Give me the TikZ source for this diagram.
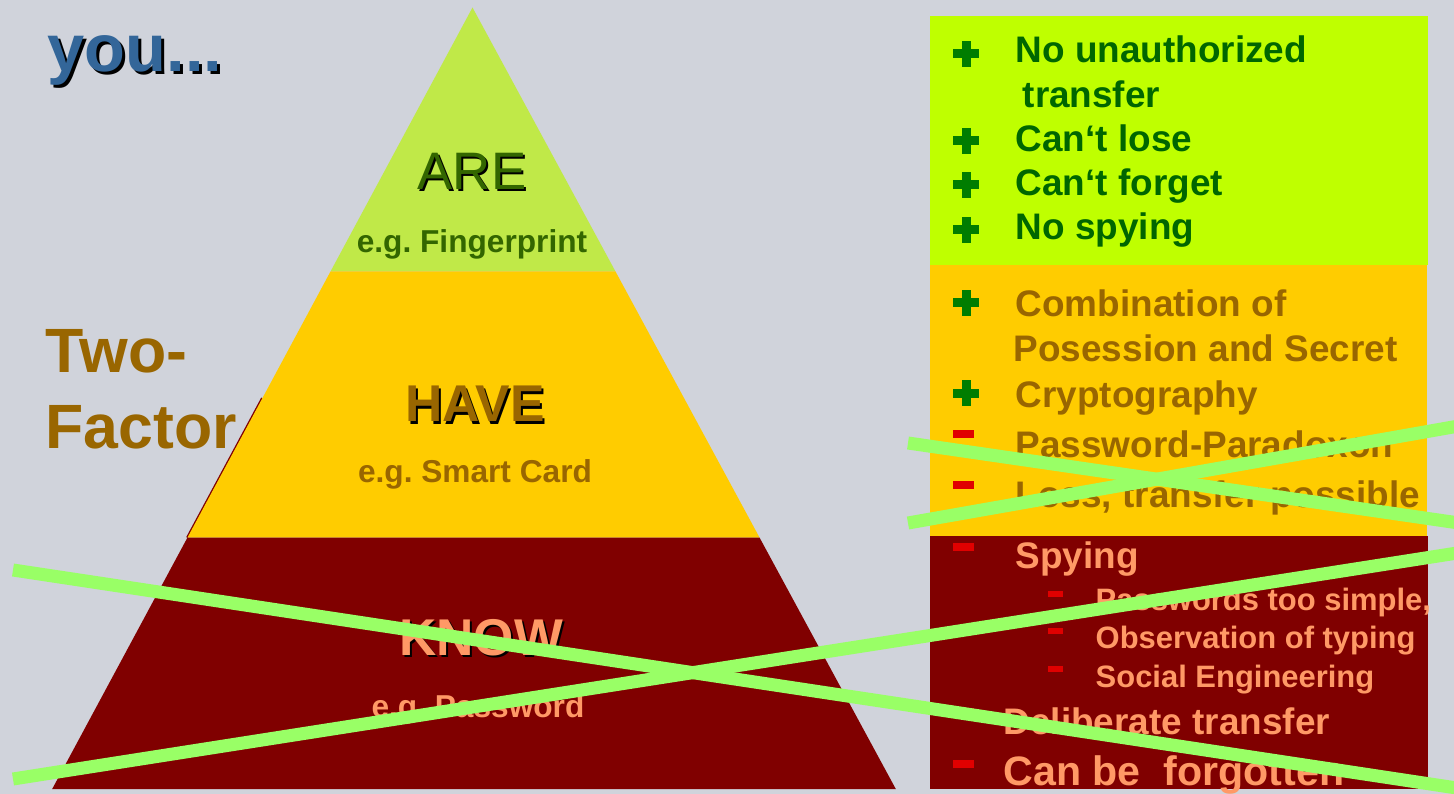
\documentclass[tikz,border=0pt]{standalone}
\usepackage{fontspec}
\setmainfont{Liberation Sans}
\usepackage{xcolor}
\usetikzlibrary{positioning,calc}
\frenchspacing

\definecolor{slidebg}{RGB}{208,211,219}
\definecolor{arefill}{RGB}{192,233,72}
\definecolor{aretext}{RGB}{51,102,0}
\definecolor{limebox}{RGB}{191,255,0}
\definecolor{limetext}{RGB}{0,102,0}
\definecolor{plusgreen}{RGB}{0,125,0}
\definecolor{havefill}{RGB}{255,204,0}
\definecolor{havetext}{RGB}{153,102,0}
\definecolor{knowfill}{RGB}{128,0,0}
\definecolor{knowtext}{RGB}{255,153,102}
\definecolor{minusred}{RGB}{224,0,0}
\definecolor{crossgreen}{RGB}{153,255,102}
\definecolor{youblue}{RGB}{51,102,153}

\begin{document}
\begin{tikzpicture}[x=0.01cm, y=-0.01cm,
    every node/.style={inner sep=0pt},
    level/.style={anchor=base, font=\fontsize{15}{18}\selectfont},
    example/.style={anchor=base, font=\bfseries\fontsize{9}{11}\selectfont},
    item/.style={anchor=base west, font=\bfseries\fontsize{10.5}{12}\selectfont},
    subitem/.style={anchor=base west, font=\bfseries\fontsize{8.8}{10}\selectfont},
    cross/.style={crossgreen, line width=1.3mm, line cap=butt}]

    % slide background
    \useasboundingbox (0,0) rectangle (1454,794);
    \fill[slidebg] (0,0) rectangle (1454,794);

    % pyramid
    \draw[knowfill, line width=0.5pt] (262,398) -- (187,537.5);
    \fill[arefill] (472.5,7.5) -- (615.5,271.5) -- (330.5,271.5) -- cycle;
    \fill[havefill] (330.5,271.5) -- (615.5,271.5) -- (759.5,537.5) -- (187.5,537.5) -- cycle;
    \fill[knowfill] (187.5,537.5) -- (759.5,537.5) -- (895.8,789) -- (52.2,789) -- cycle;

    \node[level, black] (are-sh) at (474,192) {ARE};
    \node[level, aretext] (are) at (472,190) {ARE};
    \node[example, aretext] (are-ex) at (472,252) {e.g. Fingerprint};
    \node[level, font=\bfseries\fontsize{14.7}{18}\selectfont, black] (have-sh) at (477,424) {HAVE};
    \node[level, font=\bfseries\fontsize{14.7}{18}\selectfont, havetext] (have) at (475,422) {HAVE};
    \node[example, havetext] (have-ex) at (475,482) {e.g. Smart Card};
    \node[level, font=\bfseries\fontsize{14.7}{18}\selectfont, black] (know-sh) at (483,657) {KNOW};
    \node[level, font=\bfseries\fontsize{14.7}{18}\selectfont, knowtext] (know) at (481,655) {KNOW};
    \node[example, knowtext] (know-ex) at (478,717) {e.g. Password};

    % left titles
    \node[anchor=base west, font=\bfseries\fontsize{19}{22}\selectfont, black] (you-sh) at (50,75) {you...};
    \node[anchor=base west, font=\bfseries\fontsize{19}{22}\selectfont, youblue] (you) at (47,72) {you...};
    \node[anchor=base west, font=\bfseries\fontsize{17.8}{21}\selectfont, havetext] (two) at (45,373) {Two-};
    \node[anchor=base west, font=\bfseries\fontsize{17.8}{21}\selectfont, havetext] (factor) at (45,448) {Factor};

    % right column boxes
    \fill[limebox] (930,16) rectangle (1428,265);
    \fill[havefill] (930,265) rectangle (1427,536);
    \fill[knowfill] (930,536) rectangle (1428,789);

    % pros and cons
    \node[item, limetext] (are1) at (1015,63) {No unauthorized};
    \node[item, limetext] (are1b) at (1022,108) {transfer};
    \node[item, limetext] (are2) at (1015,152) {Can‘t lose};
    \node[item, limetext] (are3) at (1015,196) {Can‘t forget};
    \node[item, limetext] (are4) at (1015,240) {No spying};

    \node[item, havetext] (have1) at (1015,317) {Combination of};
    \node[item, havetext] (have1b) at (1013,362) {Posession and Secret};
    \node[item, havetext] (have2) at (1015,407) {Cryptography};
    \node[item, havetext] (have3) at (1015,457) {Password-Paradoxon};
    \node[item, havetext] (have4) at (1015,508) {Loss, transfer possible};

    \node[item, knowtext] (know1) at (1015,568) {Spying};
    \node[subitem, knowtext] (know1a) at (1095,610) {Passwords too simple,};
    \node[subitem, knowtext] (know1b) at (1095,648) {Observation of typing};
    \node[subitem, knowtext] (know1c) at (1095,687) {Social Engineering};
    \node[item, knowtext] (know2) at (1003,734) {Deliberate transfer};
    \node[item, font=\bfseries\fontsize{11.7}{14}\selectfont, knowtext] (know3) at (1003,785) {Can be\ \ forgotten};

    % bullets
    \foreach \y in {54,141,185,230,303,393} {
        \fill[plusgreen] (953,\y-4.5) rectangle (979,\y+4.5);
        \fill[plusgreen] (961.5,\y-13) rectangle (970.5,\y+13);
    }
    \foreach \y in {430,481,543,708,760}
        \fill[minusred] (953,\y) rectangle (974,\y+8);
    \foreach \y in {591,628,666}
        \fill[minusred] (1048,\y) rectangle (1063,\y+5.5);

    % crossed out
    \draw[cross] (13,570) -- (1470,790);
    \draw[cross] (13,779) -- (1470,551);
    \draw[cross] (908,443) -- (1470,524.6);
    \draw[cross] (908,523) -- (1470,424);
\end{tikzpicture}
\end{document}
